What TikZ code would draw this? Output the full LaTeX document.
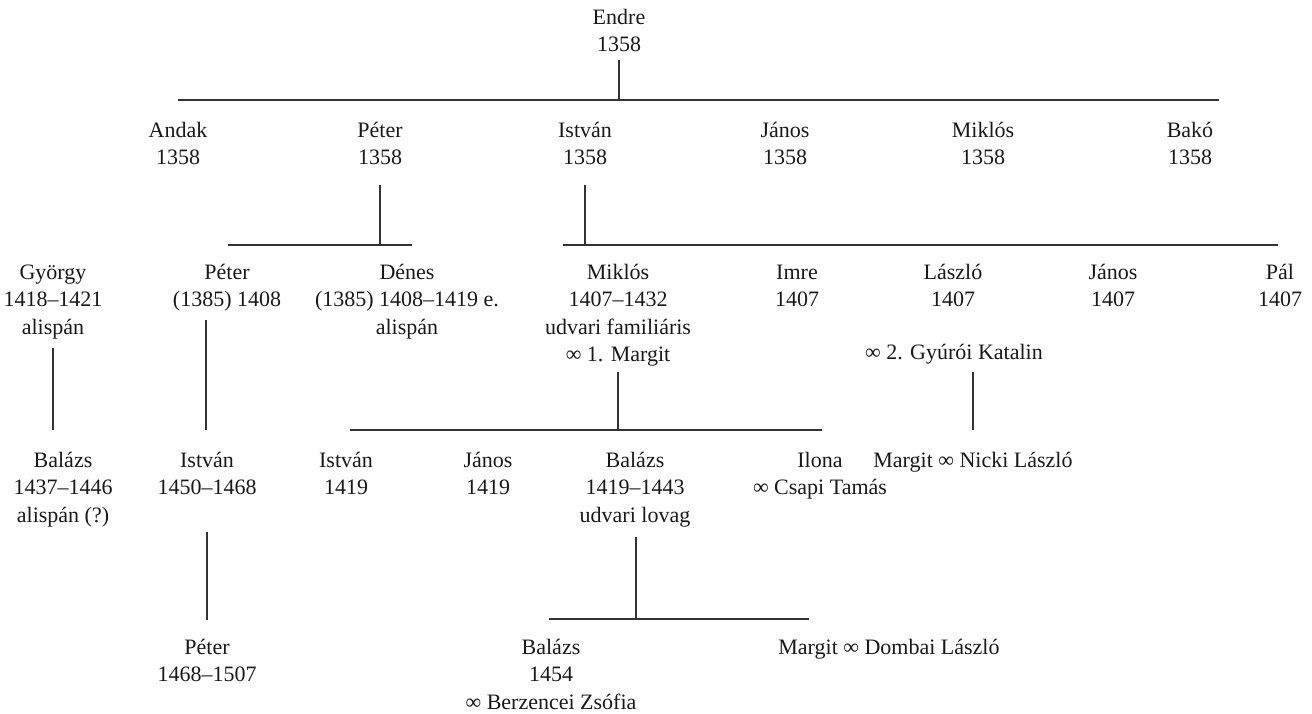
\documentclass[tikz,border=0pt]{standalone}
\usepackage{fontspec}
\setmainfont{Liberation Serif}
\begin{document}
\begin{tikzpicture}[x=1pt,y=-1pt,
  person/.style={align=center,inner sep=0pt,anchor=north,font=\fontsize{22}{27.5}\selectfont,text=black!90},
  link/.style={line width=1.2pt,draw=black!80}]
\useasboundingbox (0,0) rectangle (1312,713);
% helper: north y = first-line centre - 12.25
\newcommand{\fl}{\strut}
% generation 1
\node[person] (endre) at (619,4.75) {\fl Endre\\1358};
% generation 2
\node[person] (andak) at (178,117.75) {\fl Andak\\1358};
\node[person] (peter1) at (380,117.75) {\fl Péter\\1358};
\node[person] (istvan1) at (585,117.75) {\fl István\\1358};
\node[person] (janos1) at (785,117.75) {\fl János\\1358};
\node[person] (miklos1) at (983,117.75) {\fl Miklós\\1358};
\node[person] (bako) at (1190,117.75) {\fl Bakó\\1358};
% generation 3
\node[person] (gyorgy) at (53,259.75) {\fl György\\1418–1421\\alispán};
\node[person] (peter2) at (227,259.75) {\fl Péter\\(1385) 1408};
\node[person] (denes) at (407,259.75) {\fl Dénes\\(1385) 1408–1419 e.\\alispán};
\node[person] (miklos2) at (618,259.75) {\fl Miklós\\1407–1432\\udvari familiáris\\∞ 1. Margit};
\node[person] (imre) at (797,259.75) {\fl Imre\\1407};
\node[person] (laszlo) at (953,259.75) {\fl László\\1407};
\node[person] (janos2) at (1113,259.75) {\fl János\\1407};
\node[person] (pal) at (1280,259.75) {\fl Pál\\1407};
\node[person] (wife2) at (954,340.25) {\fl ∞ 2. Gyúrói Katalin};
% generation 4
\node[person] (balazs1) at (63,447.75) {\fl Balázs\\1437–1446\\alispán (?)};
\node[person] (istvan2) at (207,447.75) {\fl István\\1450–1468};
\node[person] (istvan3) at (346,447.75) {\fl István\\1419};
\node[person] (janos3) at (488,447.75) {\fl János\\1419};
\node[person] (balazs2) at (635,447.75) {\fl Balázs\\1419–1443\\udvari lovag};
\node[person] (ilona) at (820,447.75) {\fl Ilona\\∞ Csapi Tamás};
\node[person] (margit1) at (973,447.75) {\fl Margit ∞ Nicki László};
% generation 5
\node[person] (peter3) at (207,634.75) {\fl Péter\\1468–1507};
\node[person] (balazs3) at (551,634.75) {\fl Balázs\\1454\\∞ Berzencei Zsófia};
\node[person] (margit2) at (889,634.75) {\fl Margit ∞ Dombai László};
% junction coordinates
\coordinate (b0l) at (178,100);  \coordinate (b0r) at (1219,100);
\coordinate (b1l) at (228,245);  \coordinate (b1r) at (412,245);
\coordinate (b2l) at (563,245);  \coordinate (b2r) at (1278,245);
\coordinate (b3l) at (350,430);  \coordinate (b3r) at (822,430);
\coordinate (b4l) at (549,619);  \coordinate (b4r) at (809,619);
% bars
\draw[link] (b0l) -- (b0r);
\draw[link] (b1l) -- (b1r);
\draw[link] (b2l) -- (b2r);
\draw[link] (b3l) -- (b3r);
\draw[link] (b4l) -- (b4r);
% descents
\draw[link] (619,60) -- (619,100);
\draw[link] (380,185) -- (380,245);
\draw[link] (585,185) -- (585,245);
\draw[link] (53,348) -- (53,430);
\draw[link] (206,320) -- (206,430);
\draw[link] (618,372) -- (618,430);
\draw[link] (973,372) -- (973,430);
\draw[link] (207,532) -- (207,620);
\draw[link] (636,537) -- (636,619);
\end{tikzpicture}
\end{document}
